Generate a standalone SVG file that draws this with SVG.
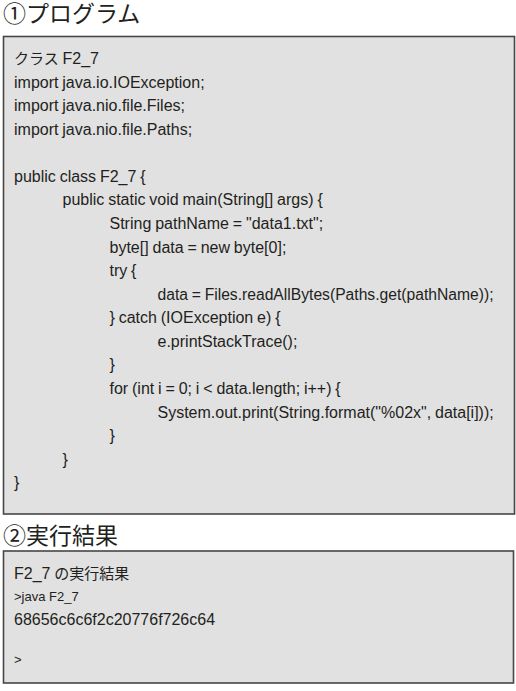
<svg xmlns="http://www.w3.org/2000/svg" width="516" height="691" viewBox="0 0 516 691">
<style>
.box{fill:#e1e1e1;stroke:#464646;stroke-width:1.6}
.title{font-family:"Liberation Sans","Noto Sans CJK JP",sans-serif;font-size:23px;fill:#231f20}
.code{font-family:"Liberation Sans","Noto Sans CJK JP",sans-serif;font-size:16px;fill:#231f20;word-spacing:-0.6px}
.small{font-family:"Liberation Sans","Noto Sans CJK JP",sans-serif;font-size:13px;fill:#231f20}
</style>
<rect width="516" height="691" fill="#ffffff"/>
<g id="title1">
<text class="title" x="3" y="22">①プログラム</text>
</g>
<g id="program">
<rect class="box" x="3.5" y="36.5" width="511" height="477.5"/>
<text class="code" x="14" y="64"><tspan font-size="15">クラス</tspan> F2_7</text>
<text class="code" x="14" y="87.6">import java.io.IOException;</text>
<text class="code" x="14" y="111.1">import java.nio.file.Files;</text>
<text class="code" x="14" y="134.7">import java.nio.file.Paths;</text>
<text class="code" x="14" y="181.9">public class F2_7 {</text>
<text class="code" x="62.5" y="205.4">public static void main(String[] args) {</text>
<text class="code" x="109.5" y="229">String pathName = "data1.txt";</text>
<text class="code" x="109.5" y="252.6">byte[] data = new byte[0];</text>
<text class="code" x="109.5" y="276.1">try {</text>
<text class="code" x="157.5" y="299.7" textLength="336" lengthAdjust="spacingAndGlyphs">data = Files.readAllBytes(Paths.get(pathName));</text>
<text class="code" x="109.5" y="323.3">} catch (IOException e) {</text>
<text class="code" x="157.5" y="346.8">e.printStackTrace();</text>
<text class="code" x="109.5" y="370.4">}</text>
<text class="code" x="109.5" y="394">for (int i = 0; i &lt; data.length; i++) {</text>
<text class="code" x="157.5" y="417.6">System.out.print(String.format("%02x", data[i]));</text>
<text class="code" x="109.5" y="441.1">}</text>
<text class="code" x="62.5" y="464.7">}</text>
<text class="code" x="14" y="488.3">}</text>
</g>
<g id="title2">
<text class="title" x="3" y="544">②実行結果</text>
</g>
<g id="result">
<rect class="box" x="3.5" y="551" width="510" height="132"/>
<text class="code" x="14" y="579">F2_7 <tspan font-size="15">の実行結果</tspan></text>
<text class="small" x="14" y="601">&gt;java F2_7</text>
<text class="code" x="14" y="625">68656c6c6f2c20776f726c64</text>
<text class="small" x="14" y="664">&gt;</text>
</g>
</svg>
